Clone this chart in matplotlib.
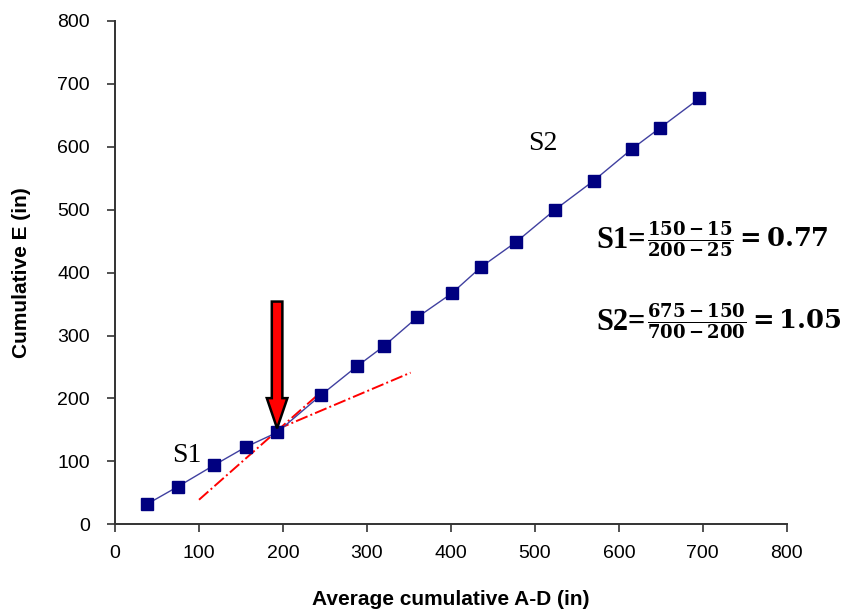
import matplotlib
matplotlib.use('Agg')
import matplotlib.pyplot as plt
from matplotlib.patches import FancyArrow

# data
avg_ad = [38, 75, 118, 156, 193, 245, 288, 320, 360, 401, 436, 478, 524, 570, 616, 649, 696]
cum_e = [32, 60, 94, 123, 146, 205, 251, 283, 329, 367, 409, 449, 500, 546, 597, 630, 677]

# tangent lines for the two slopes
s1_x = [100, 246]
s1_y = [39, 211]
s2_x = [193, 352]
s2_y = [151, 241]

xticks = [0, 100, 200, 300, 400, 500, 600, 700, 800]
yticks = [0, 100, 200, 300, 400, 500, 600, 700, 800]

plt.rcParams['mathtext.fontset'] = 'dejavuserif'

fig = plt.figure(figsize=(8.49, 6.15), dpi=100)
ax = fig.add_axes([0.1355, 0.1475, 0.7912, 0.8184])

ax.plot(s1_x, s1_y, color='red', linestyle='-.', linewidth=1.4, zorder=2)
ax.plot(s2_x, s2_y, color='red', linestyle='-.', linewidth=1.4, zorder=2)
ax.plot(avg_ad, cum_e, color='#4040a0', linewidth=1.0, marker='s', markersize=8.5,
        markerfacecolor='#000080', markeredgecolor='#000080', zorder=3)

# arrow pointing to the break point
ax.add_patch(FancyArrow(193, 354, 0, -201.5, width=12.6, head_width=24.5, head_length=48,
                        length_includes_head=True, facecolor='red', edgecolor='black',
                        linewidth=1.8, zorder=4))

ax.text(86, 110, 'S1', fontsize=20, family='Liberation Serif', ha='center', va='center')
ax.text(510, 606, 'S2', fontsize=20, family='Liberation Serif', ha='center', va='center')

# slope formulas
ax.text(0.716, 0.563, 'S1=', transform=ax.transAxes, fontsize=22,
        family='Liberation Serif', weight='bold', ha='left', va='center')
ax.text(0.792, 0.565, r'$\mathbf{\frac{150-15}{200-25}=0.77}$', transform=ax.transAxes,
        fontsize=18.5, ha='left', va='center')
ax.text(0.716, 0.400, 'S2=', transform=ax.transAxes, fontsize=22,
        family='Liberation Serif', weight='bold', ha='left', va='center')
ax.text(0.792, 0.402, r'$\mathbf{\frac{675-150}{700-200}=1.05}$', transform=ax.transAxes,
        fontsize=18.5, ha='left', va='center')

ax.set_xlim(0, 800)
ax.set_ylim(0, 800)
ax.set_xticks(xticks)
ax.set_yticks(yticks)
ax.tick_params(axis='both', direction='out', length=6, width=1.2, color='#333333',
               labelsize=14)
ax.tick_params(axis='y', pad=12)
ax.tick_params(axis='x', pad=9)
for lab in ax.get_xticklabels() + ax.get_yticklabels():
    lab.set_family('Liberation Sans')

ax.spines['top'].set_visible(False)
ax.spines['right'].set_visible(False)
ax.spines['left'].set_color('#333333')
ax.spines['bottom'].set_color('#333333')
ax.spines['left'].set_linewidth(1.4)
ax.spines['bottom'].set_linewidth(1.4)

ax.set_xlabel('Average cumulative A-D (in)', fontsize=15, weight='bold',
              family='Liberation Sans', labelpad=20)
ax.set_ylabel('Cumulative E (in)', fontsize=15, weight='bold',
              family='Liberation Sans', labelpad=19)

fig.savefig('out.png', dpi=100)
